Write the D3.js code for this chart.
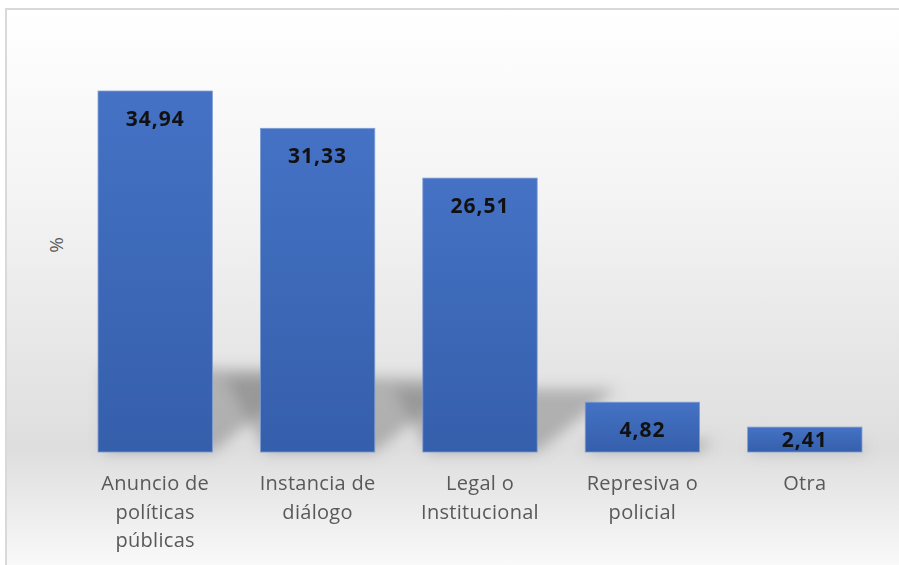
<!DOCTYPE html>
<html>
<head>
<meta charset="utf-8">
<script src="https://cdn.jsdelivr.net/npm/d3@7"></script>
<style>
  html, body { margin: 0; padding: 0; background: #ffffff; }
  svg { display: block; }
</style>
</head>
<body>
<svg id="chart" width="899" height="565"></svg>
<script>
const categories = [
  ["Anuncio de", "políticas", "públicas"],
  ["Instancia de", "diálogo"],
  ["Legal o", "Institucional"],
  ["Represiva o", "policial"],
  ["Otra"]
];
const categoryKeys = ["Anuncio de políticas públicas", "Instancia de diálogo", "Legal o Institucional", "Represiva o policial", "Otra"];
const values = [34.94, 31.33, 26.51, 4.82, 2.41];
const valueLabels = ["34,94", "31,33", "26,51", "4,82", "2,41"];
const yAxisTitle = "%";

const W = 899, H = 565;
const svg = d3.select("#chart");
const defs = svg.append("defs");

// background gradient
const bg = defs.append("linearGradient").attr("id", "bgGrad").attr("x1", 0).attr("y1", 0).attr("x2", 0).attr("y2", 1);
bg.append("stop").attr("offset", "0%").attr("stop-color", "#ffffff");
bg.append("stop").attr("offset", "35%").attr("stop-color", "#f3f3f3");
bg.append("stop").attr("offset", "78%").attr("stop-color", "#dedede");
bg.append("stop").attr("offset", "100%").attr("stop-color", "#fbfbfb");

const barGrad = defs.append("linearGradient").attr("id", "barGrad").attr("x1", 0).attr("y1", 0).attr("x2", 0).attr("y2", 1);
barGrad.append("stop").attr("offset", "0%").attr("stop-color", "#4572c5");
barGrad.append("stop").attr("offset", "100%").attr("stop-color", "#355fab");

const blur = defs.append("filter").attr("id", "shadowBlur").attr("x", "-50%").attr("y", "-50%").attr("width", "200%").attr("height", "200%");
blur.append("feGaussianBlur").attr("stdDeviation", 7);

svg.append("rect").attr("x", 0).attr("y", 0).attr("width", W).attr("height", H).attr("fill", "#ffffff");
svg.append("rect").attr("x", 6).attr("y", 9).attr("width", W).attr("height", H)
  .attr("fill", "url(#bgGrad)").attr("stroke", "#d9d9d9").attr("stroke-width", 2);

const x = d3.scaleBand().domain(categoryKeys).range([74, 886]).paddingInner(0.296).paddingOuter(0.148);
const y = d3.scaleLinear().domain([0, 35]).range([452, 90.4]);

// shadows (perspective-like, cast upward behind bars)
const shadowG = svg.append("g").attr("filter", "url(#shadowBlur)");
categoryKeys.forEach((k, i) => {
  const x0 = x(k), x1 = x(k) + x.bandwidth();
  const base = y(0);
  const h = base - y(values[i]);
  const sh = h * 0.23;
  const leftSpread = i === 0 ? 0 : 0.55;
  const pts = [[x0 + 6, base], [x1, base], [x1 + sh * 1.25, base - sh], [x0 - sh * leftSpread + 6, base - sh]];
  shadowG.append("path")
    .attr("d", d3.line()(pts) + "Z")
    .attr("fill", "#808080")
    .attr("opacity", 0.5);
});

// bars
svg.append("g").selectAll("rect").data(values).join("rect")
  .attr("x", (d, i) => x(categoryKeys[i]))
  .attr("y", d => y(d))
  .attr("width", x.bandwidth())
  .attr("height", d => y(0) - y(d))
  .attr("fill", "url(#barGrad)")
  .attr("stroke", "#7d9bd3")
  .attr("stroke-width", 0.8);

// value labels
svg.append("g").selectAll("text").data(values).join("text")
  .attr("x", (d, i) => x(categoryKeys[i]) + x.bandwidth() / 2)
  .attr("y", d => Math.min(y(d) + 35, y(0) - 5))
  .attr("text-anchor", "middle")
  .attr("font-family", "'Open Sans', sans-serif")
  .attr("font-weight", "bold")
  .attr("font-size", 21)
  .attr("letter-spacing", 1)
  .attr("fill", "#111111")
  .text((d, i) => valueLabels[i]);

// category labels
const catG = svg.append("g");
categories.forEach((lines, i) => {
  const cx = x(categoryKeys[i]) + x.bandwidth() / 2;
  const t = catG.append("text")
    .attr("x", cx)
    .attr("y", 490)
    .attr("text-anchor", "middle")
    .attr("font-family", "'Open Sans', sans-serif")
    .attr("font-size", 20)
    .attr("letter-spacing", 0.3)
    .attr("fill", "#595959");
  lines.forEach((ln, j) => {
    t.append("tspan").attr("x", cx).attr("y", 490 + j * 28.5).text(ln);
  });
});

// y axis title
svg.append("text")
  .attr("transform", "translate(63,245) rotate(-90)")
  .attr("text-anchor", "middle")
  .attr("font-family", "'Open Sans', sans-serif")
  .attr("font-size", 19)
  .attr("fill", "#595959")
  .text(yAxisTitle);
</script>
</body>
</html>
